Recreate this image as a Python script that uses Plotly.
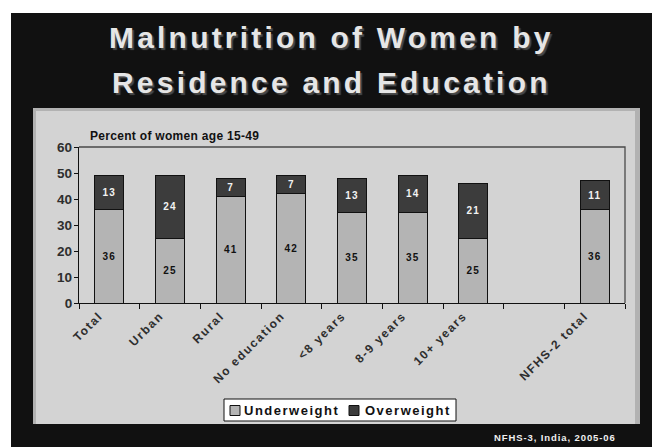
import plotly.graph_objects as go

# Survey data: women age 15-49, percent underweight / overweight
categories = ["Total", "Urban", "Rural", "No education", "<8 years",
              "8-9 years", "10+ years", " ", "NFHS-2 total"]
underweight = [36, 25, 41, 42, 35, 35, 25, None, 36]
overweight = [13, 24, 7, 7, 13, 14, 21, None, 11]
y_ticks = [0, 10, 20, 30, 40, 50, 60]

series_names = ["Underweight", "Overweight"]
series_colors = ["#b4b4b4", "#3c3c3c"]
label_colors = ["#111111", "#f2f2f2"]

W, H = 652, 447
FONT = "Liberation Sans, Arial, sans-serif"


def px(x):
    return x / W


def py(y):
    return 1 - y / H


def spaced(s, sp):
    s = s.replace("<", "&lt;")
    return f'<span style="letter-spacing:{sp}px">{s}</span>'


def labels(vals):
    return [spaced(str(v), 1.2) if v is not None else "" for v in vals]


fig = go.Figure()
for name, vals, color, tcolor in zip(series_names, [underweight, overweight],
                                     series_colors, label_colors):
    fig.add_trace(go.Bar(
        x=categories, y=vals, name=name, showlegend=False,
        marker=dict(color=color, line=dict(color="#111111", width=1)),
        text=labels(vals), textposition="inside", insidetextanchor="middle",
        textangle=0,
        textfont=dict(family=FONT, size=10, color=tcolor, weight="bold"),
    ))

tick_labels = [spaced(c, 1.6) if c.strip() else "" for c in categories]

shapes = [
    # slide background
    dict(type="rect", xref="paper", yref="paper", layer="below",
         x0=px(11), x1=px(652), y0=py(447), y1=py(13),
         fillcolor="#111111", line=dict(width=0)),
    # chart panel with darker rim
    dict(type="rect", xref="paper", yref="paper", layer="below",
         x0=px(33), x1=px(640), y0=py(424), y1=py(108),
         fillcolor="#b2b2b2", line=dict(width=0)),
    dict(type="rect", xref="paper", yref="paper", layer="below",
         x0=px(36), x1=px(635), y0=py(424), y1=py(111),
         fillcolor="#d3d3d3", line=dict(width=0)),
    # plot frame (top and right edges)
    dict(type="path", xref="paper", yref="paper", layer="below",
         path=f"M {px(79)} {py(147)} L {px(625)} {py(147)} L {px(625)} {py(303)}",
         line=dict(color="#4a4a4a", width=1.3)),
    # legend box
    dict(type="rect", xref="paper", yref="paper", layer="above",
         x0=px(224), x1=px(456), y0=py(421), y1=py(399),
         fillcolor="white", line=dict(color="#111111", width=1)),
]

annotations = [
    dict(text=spaced("Malnutrition of Women by", 3.2), xref="paper", yref="paper",
         x=px(332), y=py(37), xanchor="center", yanchor="middle", showarrow=False,
         font=dict(family=FONT, size=30, color="#e6e6e6", weight="bold",
                   shadow="2px 2px 1px #4a4a4a")),
    dict(text=spaced("Residence and Education", 3.2), xref="paper", yref="paper",
         x=px(332), y=py(82), xanchor="center", yanchor="middle", showarrow=False,
         font=dict(family=FONT, size=30, color="#e6e6e6", weight="bold",
                   shadow="2px 2px 1px #4a4a4a")),
    dict(text=spaced("Percent of women age 15-49", 0.3), xref="paper", yref="paper",
         x=px(88), y=py(136), xanchor="left", yanchor="middle", showarrow=False,
         font=dict(family=FONT, size=12, color="#111111", weight="bold")),
    dict(text=spaced("NFHS-3, India, 2005-06", 0.9), xref="paper", yref="paper",
         x=px(618), y=py(437), xanchor="right", yanchor="middle", showarrow=False,
         font=dict(family=FONT, size=9.5, color="#f0f0f0", weight="bold")),
]

# legend entries: swatch + label
legend_swatch_x = [230, 349]
legend_text_x = [242, 363]
for name, color, sx, tx in zip(series_names, series_colors,
                               legend_swatch_x, legend_text_x):
    shapes.append(dict(type="rect", xref="paper", yref="paper", layer="above",
                       x0=px(sx), x1=px(sx + 10), y0=py(415.5), y1=py(405.5),
                       fillcolor=color, line=dict(color="#111111", width=1)))
    annotations.append(dict(text=spaced(name, 1.5), xref="paper", yref="paper",
                            x=px(tx), y=py(410), xanchor="left", yanchor="middle",
                            showarrow=False,
                            font=dict(family=FONT, size=13, color="#111111",
                                      weight="bold")))

fig.update_layout(
    width=W, height=H,
    margin=dict(l=0, r=0, t=0, b=0, autoexpand=False),
    paper_bgcolor="white",
    plot_bgcolor="rgba(0,0,0,0)",
    barmode="stack",
    bargap=0.52,
    font=dict(family=FONT),
    showlegend=False,
    xaxis=dict(
        domain=[px(79), px(625)], automargin=False,
        type="category", categoryorder="array", categoryarray=categories,
        tickvals=categories, ticktext=tick_labels,
        range=[-0.5, len(categories) - 0.5],
        tickson="boundaries", ticks="outside", ticklen=5, tickcolor="#111111",
        showline=True, linecolor="#111111", linewidth=1.3,
        showgrid=False, tickangle=-45, ticklabelshift=-10,
        tickfont=dict(family=FONT, size=12, color="#2e2e2e", weight="bold"),
    ),
    yaxis=dict(
        domain=[py(303), py(147)], automargin=False,
        range=[0, 60], tickvals=y_ticks,
        ticktext=[f"{v}" for v in y_ticks],
        ticks="outside", ticklen=4, tickcolor="#111111",
        ticklabelstandoff=-1,
        showline=True, linecolor="#111111", linewidth=1.3,
        showgrid=False, zeroline=False,
        tickfont=dict(family=FONT, size=13.5, color="#2e2e2e", weight="bold"),
    ),
    shapes=shapes,
    annotations=annotations,
)

fig.write_html("out.html")
